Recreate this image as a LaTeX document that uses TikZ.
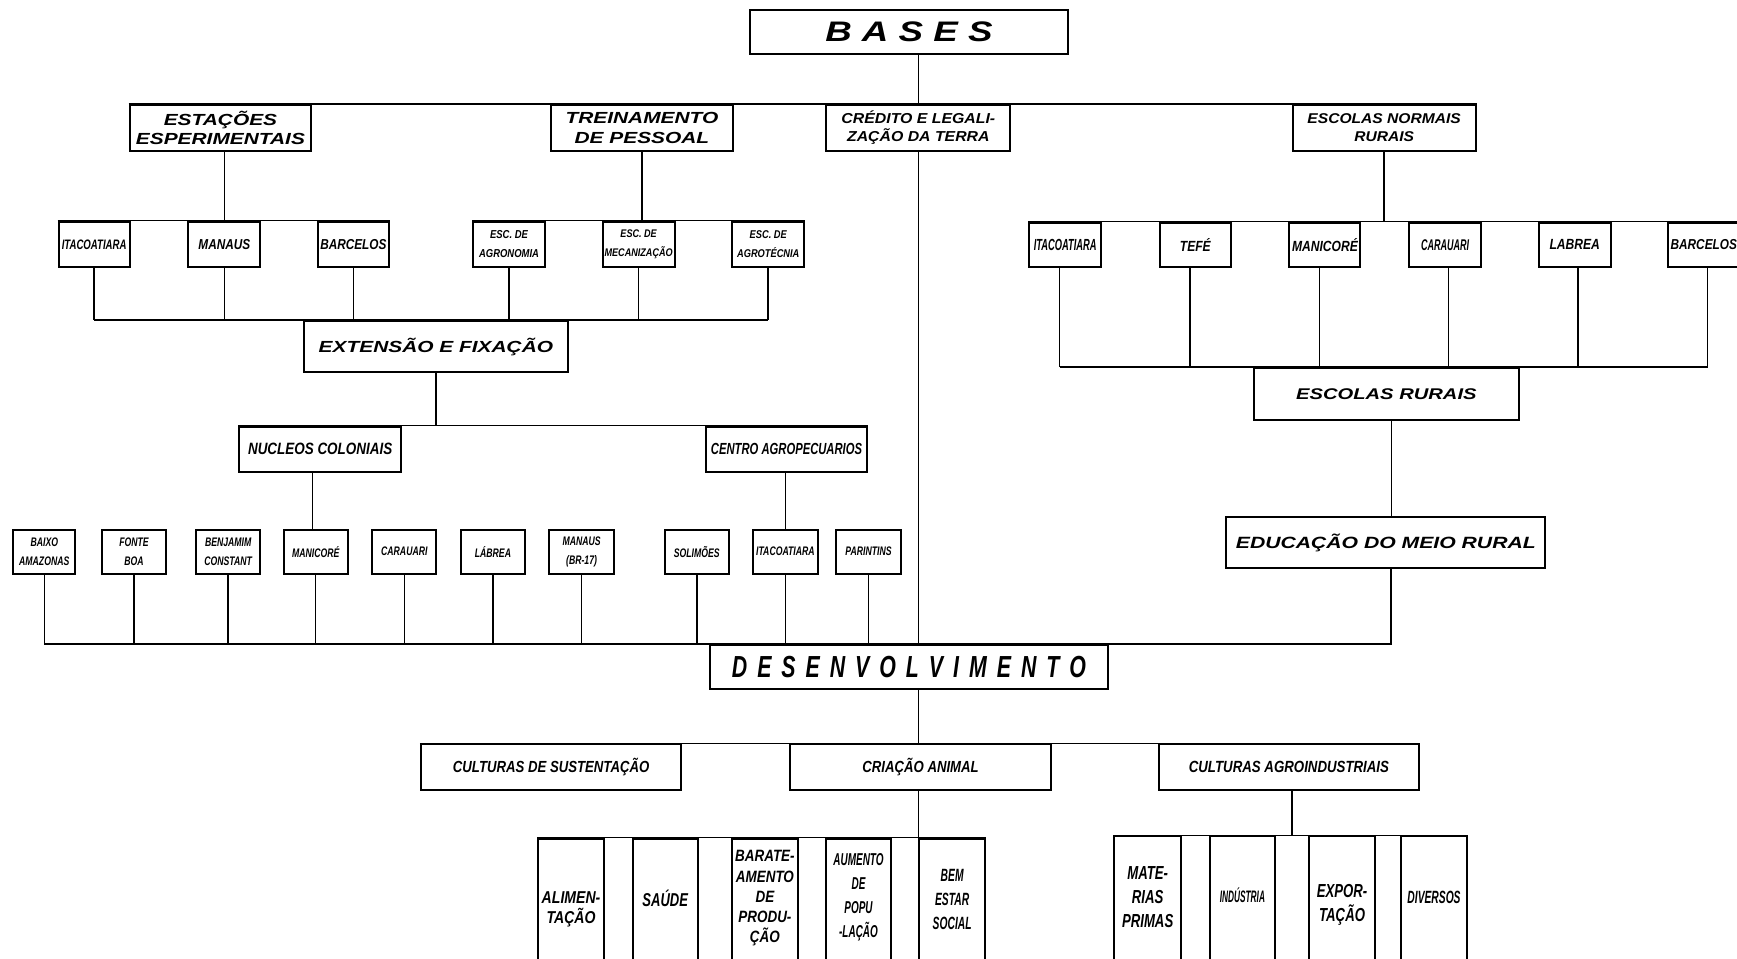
\documentclass[tikz,border=0pt]{standalone}
\usepackage{fontspec}
\newfontfamily\famA[FakeStretch=1.3]{Liberation Sans}
\newfontfamily\famB[FakeStretch=1.1]{Liberation Sans}
\newfontfamily\famC[FakeStretch=0.82]{Liberation Sans}
\newfontfamily\famD[FakeStretch=0.7]{Liberation Sans}
\newfontfamily\famE[FakeStretch=0.58]{Liberation Sans}
\newfontfamily\famF[FakeStretch=0.5]{Liberation Sans}
\newcommand\Fnt[3]{#1\bfseries\itshape\fontsize{#2}{#3}\selectfont}
\newcommand\lspc{\hspace{9pt}}
\begin{document}
\begin{tikzpicture}[x=1pt,y=-1pt,
  box/.style={draw, line width=1.8pt, inner sep=0pt, align=center},
  sz/.style 2 args={minimum width=#1pt, minimum height=#2pt},
  conn/.style={line width=1.4pt},
  txt/.style={inner sep=0pt, align=center}]
\useasboundingbox (0,0) rectangle (1568,865);
\clip (0,0) rectangle (1568,865);
\fill[white] (0,0) rectangle (1568,865);

% level 0
\node[box, sz={287}{40}, font={\Fnt\famA{25.5}{30}}] (bases) at (820.5,29) {B A S E S};
% level 1
\node[box, sz={164}{41}, font={\Fnt\famA{14.5}{17.4}}] (est) at (199,115.5) {ESTAÇÕES\\ESPERIMENTAIS};
\node[box, sz={165}{41}, font={\Fnt\famA{14.5}{17.4}}] (tre) at (579.5,115.5) {TREINAMENTO\\DE PESSOAL};
\node[box, sz={166}{41}, font={\Fnt\famB{13}{16}}] (cre) at (829,115.5) {CRÉDITO E LEGALI-\\ZAÇÃO DA TERRA};
\node[box, sz={165}{41}, font={\Fnt\famB{12.8}{16}}] (esn) at (1249.5,115.5) {ESCOLAS NORMAIS\\RURAIS};
% level 2 left
\node[box, sz={64}{41}, font={\Fnt\famD{12.4}{15}}] (ita1) at (85,220.5) {ITACOATIARA};
\node[box, sz={65}{41}, font={\Fnt\famC{13}{15}}] (man1) at (202.5,220.5) {MANAUS};
\node[box, sz={64}{41}, font={\Fnt\famC{13}{15}}] (bar1) at (319,220.5) {BARCELOS};
\node[box, sz={65}{41}, font={\Fnt\famC{10.4}{17}}] (agr) at (459.5,220.5) {ESC. DE\\AGRONOMIA};
\node[box, sz={65}{41}, font={\Fnt\famC{10}{16.5}}] (mec) at (576.5,220.5) {ESC. DE\\MECANIZAÇÃO};
\node[box, sz={65}{41}, font={\Fnt\famC{10.2}{17}}] (agt) at (693.5,220.5) {ESC. DE\\AGROTÉCNIA};
% level 2 right
\node[box, sz={65}{40}, font={\Fnt\famE{14.5}{16}}] (ita2) at (961.5,221) {ITACOATIARA};
\node[box, sz={64}{40}, font={\Fnt\famC{13.3}{16}}] (tef) at (1079,221) {TEFÉ};
\node[box, sz={64}{40}, font={\Fnt\famC{13.3}{16}}] (mac) at (1196,221) {MANICORÉ};
\node[box, sz={65}{40}, font={\Fnt\famE{14}{16}}] (cau) at (1304.5,221) {CARAUARI};
\node[box, sz={65}{40}, font={\Fnt\famC{13.3}{16}}] (lbr) at (1421.5,221) {LABREA};
\node[box, sz={65}{40}, font={\Fnt\famC{13}{16}}] (bar2) at (1538,221) {BARCELOS};
% extension
\node[box, sz={239}{46}, font={\Fnt\famA{14.5}{17}}] (ext) at (393.5,313) {EXTENSÃO E FIXAÇÃO};
\node[box, sz={146}{41}, font={\Fnt\famC{14.8}{17}}] (nuc) at (289,405.5) {NUCLEOS COLONIAIS};
\node[box, sz={146}{41}, font={\Fnt\famD{14.5}{17}}] (cen) at (710,405.5) {CENTRO AGROPECUARIOS};
% row 4
\tikzset{r4/.style={box, sz={58}{40}, font={\Fnt\famD{11.2}{17.5}}}}
\node[r4, sz={56}{40}] (bxa) at (40,498) {BAIXO\\AMAZONAS};
\node[r4] (fon) at (121,498) {FONTE\\BOA};
\node[r4] (ben) at (206,498) {BENJAMIM\\CONSTANT};
\node[r4] (man2) at (285,498) {MANICORÉ};
\node[r4] (car2) at (365,498) {CARAUARI};
\node[r4] (lab2) at (445,498) {LÁBREA};
\node[r4] (man3) at (525,498) {MANAUS\\(BR-17)};
\node[r4] (sol) at (629,498) {SOLIMÕES};
\node[r4] (ita3) at (709,498) {ITACOATIARA};
\node[r4] (par) at (784,498) {PARINTINS};
% right column
\node[box, sz={239}{47}, font={\Fnt\famA{14}{17}}] (esr) at (1251.5,355.5) {ESCOLAS RURAIS};
\node[box, sz={288}{46}, font={\Fnt\famA{14.7}{17}}] (edu) at (1251,490) {EDUCAÇÃO DO MEIO RURAL};
% desenvolvimento
\node[box, sz={359}{40}, font={\Fnt\famD{27.5}{30}}] (des) at (820.5,602)
  {D\lspc E\lspc S\lspc E\lspc N\lspc V\lspc O\lspc L\lspc V\lspc I\lspc M\lspc E\lspc N\lspc T\lspc O};
% level below
\node[box, sz={235}{41}, font={\Fnt\famC{14.5}{17}}] (cus) at (497.5,692.5) {CULTURAS DE SUSTENTAÇÃO};
\node[box, sz={235}{41}, font={\Fnt\famC{14.5}{17}}] (cri) at (831,692.5) {CRIAÇÃO ANIMAL};
\node[box, sz={235}{41}, font={\Fnt\famC{14.6}{17}}] (cag) at (1163.5,692.5) {CULTURAS AGROINDUSTRIAIS};
% bottom boxes
\node[box, sz={59}{146}] (ali) at (515.5,830) {};
\node[box, sz={59}{146}] (sau) at (600.5,830) {};
\node[box, sz={59}{146}] (bara) at (690.5,830) {};
\node[box, sz={58}{146}] (aum) at (775,830) {};
\node[box, sz={59}{146}] (bem) at (859.5,830) {};
\node[box, sz={60}{150}] (mat) at (1036,830) {};
\node[box, sz={59}{150}] (ind) at (1121.5,830) {};
\node[box, sz={59}{150}] (exp) at (1211.5,830) {};
\node[box, sz={59}{150}] (div) at (1294.5,830) {};
\node[txt, font={\Fnt\famC{15.5}{18.5}}] (alit) at (515.5,821) {ALIMEN-\\TAÇÃO};
\node[txt, font={\Fnt\famD{16.8}{19}}] (saut) at (600.5,811) {SAÚDE};
\node[txt, font={\Fnt\famC{14.8}{18.3}}] (barat) at (690.5,811) {BARATE-\\AMENTO\\DE\\PRODU-\\ÇÃO};
\node[txt, font={\Fnt\famE{15.5}{21.5}}] (aumt) at (775,810) {AUMENTO\\DE\\POPU\\-LAÇÃO};
\node[txt, font={\Fnt\famE{16}{22}}] (bemt) at (859.5,812) {BEM\\ESTAR\\SOCIAL};
\node[txt, font={\Fnt\famD{17}{21.6}}] (matt) at (1036,809.5) {MATE-\\RIAS\\PRIMAS};
\node[txt, font={\Fnt\famF{15}{18}}] (indt) at (1121.5,808) {INDÚSTRIA};
\node[txt, font={\Fnt\famD{17}{21.6}}] (expt) at (1211.5,817) {EXPOR-\\TAÇÃO};
\node[txt, font={\Fnt\famE{16}{18}}] (divt) at (1294.5,810) {DIVERSOS};

% ---------- connectors ----------
\begin{scope}[conn]
\draw (bases.south -| cre.north) -- (cre.north);
\draw (est.north west) -- (esn.north east);
% left groups
\draw (man1.north) -- (man1.north |- est.south);
\draw (tre.south) -- (tre.south |- mec.north);
\draw (ita1.north west) -- (bar1.north east);
\draw (agr.north west) -- (agt.north east);
\foreach \n in {ita1,man1,bar1,agr,mec,agt}
  \draw (\n.south) -- (\n.south |- ext.north);
\draw (ita1.south |- ext.north) -- (agt.south |- ext.north);
\draw (ext.south) -- (ext.south |- nuc.north);
\draw (nuc.north west) -- (cen.north east);
\coordinate (nucv) at ([xshift=-3pt]man2.north);
\draw (nucv) -- (nucv |- nuc.south);
\draw (ita3.north) -- (ita3.north |- cen.south);
\foreach \n in {bxa,fon,ben,man2,car2,lab2,man3,sol,ita3,par}
  \draw (\n.south) -- (\n.south |- des.north);
% right group
\draw (esn.south) -- (esn.south |- ita2.north);
\draw (ita2.north west) -- (bar2.north east);
\foreach \n/\d in {ita2/-5,tef/-5,mac/-5,cau/3,lbr/3,bar2/3.5}{
  \coordinate (\n v) at ([xshift=\d pt]\n.south);
  \draw (\n v) -- (\n v |- esr.north);
}
\draw (ita2v |- esr.north) -- (bar2v |- esr.north);
\coordinate (esrv) at ([xshift=4.5pt]esr.south);
\draw (esrv) -- (esrv |- edu.north);
\coordinate (eduv) at ([xshift=4.5pt]edu.south);
\draw (bxa.south |- des.north) -- (eduv |- des.north) -- (eduv);
\draw (cre.south) -- (cre.south |- des.north);
% lower
\draw (des.south -| bem.north west) -- (bem.north west |- cri.north);
\draw (cus.north west) -- (cag.north east);
\draw (bem.north west |- cri.south) -- (bem.north west);
\draw (ali.north west) -- (bem.north east);
\coordinate (cagv) at ([xshift=3pt]cag.south);
\draw (cagv) -- (cagv |- mat.north);
\draw (mat.north west) -- (div.north east);
\end{scope}
\end{tikzpicture}
\end{document}
